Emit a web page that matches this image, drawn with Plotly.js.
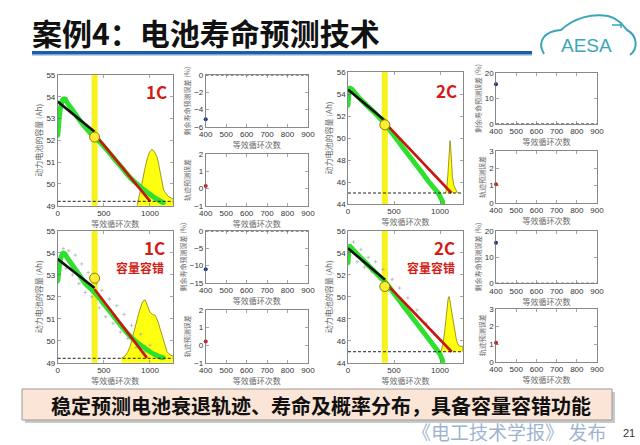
<!DOCTYPE html>
<html><head><meta charset="utf-8">
<script src="https://cdn.plot.ly/plotly-3.0.1.min.js"></script>
<style>html,body{margin:0;padding:0;background:#fff}#chart{width:640px;height:445px}</style>
</head><body><div id="chart"></div>
<script>
// ---------------- data ----------------
const cycleRange = [0, 1250];
const smallCycleRange = [400, 900];
const bigTickVals = [0, 500, 1000];
const smallTickVals = [400, 500, 600, 700, 800, 900];
const predCycle = [400];
const zeroRef = [0, 0];

// Panel A : 1C
const greenA_x = [0, 8, 18, 30, 45, 60, 80, 100, 150, 200, 250, 300, 350, 400, 450, 500, 600, 700, 800, 900, 950, 1000, 1050, 1100, 1150];
const greenA_y = [52.2, 52.6, 53.1, 53.5, 53.75, 53.9, 53.9, 53.75, 53.45, 53.15, 52.85, 52.6, 52.35, 52.15, 51.95, 51.72, 51.22, 50.72, 50.22, 49.85, 49.68, 49.52, 49.37, 49.24, 49.12];
const blackA_x = [0, 400];
const blackA_y = [53.78, 52.4];
const redA_x = [400, 1003];
const redA_y = [52.3, 49.2];
const circleA_y = [52.15];
const thresholdA = 49.2;
const pdfA_x = [860, 890, 915, 940, 967, 995, 1021, 1045, 1076, 1095, 1112, 1130, 1148, 1175, 1202, 1230, 1253];
const pdfA_y = [49.0, 49.5, 50.05, 50.6, 51.1, 51.45, 51.59, 51.5, 51.25, 50.9, 50.5, 50.1, 49.72, 49.55, 49.42, 49.35, 49.3];
const rulErrA = [-5.1];
const trajErrA = [0.15];

// Panel B : 2C
const greenB_x = [0, 5, 10, 20, 40, 100, 200, 300, 400, 500, 600, 700, 800, 900, 980, 1000, 1035];
const greenB_y = [52.9, 53.6, 54.2, 54.55, 54.45, 53.85, 53.0, 52.2, 51.3, 50.2, 49.1, 48.0, 46.9, 45.8, 45.0, 44.7, 44.1];
const blackB_x = [0, 400];
const blackB_y = [54.4, 51.6];
const redB_x = [400, 1125];
const redB_y = [51.4, 45.0];
const circleB_y = [51.2];
const thresholdB = 45;
const pdfB_x = [1060, 1075, 1085, 1095, 1102, 1109, 1116, 1125, 1135, 1150, 1170, 1190];
const pdfB_y = [45.0, 45.6, 46.6, 48.2, 49.3, 49.75, 49.2, 47.8, 46.5, 45.7, 45.3, 45.0];
const rulErrB = [15.6];
const trajErrB = [1.08];

// Panel C : 1C with capacity fault tolerance
const greenC_x = [0, 8, 18, 30, 45, 60, 80, 100, 150, 200, 250, 300, 350, 400, 450, 500, 600, 700, 800, 900, 950, 1000, 1050, 1100, 1150];
const greenC_y = [52.7, 53.0, 53.4, 53.7, 53.9, 54.0, 53.95, 53.8, 53.5, 53.2, 52.9, 52.6, 52.4, 52.2, 51.95, 51.68, 51.15, 50.62, 50.15, 49.8, 49.65, 49.5, 49.38, 49.28, 49.22];
const noiseC_x = [30, 60, 90, 120, 160, 190, 230, 260, 300, 330, 370, 420, 450, 480, 520, 560, 600, 640, 680, 720, 760, 800, 850, 900, 950, 1000, 1050];
const noiseC_y = [53.2, 54.2, 53.3, 54.1, 53.0, 53.9, 52.6, 53.5, 52.2, 53.1, 52.0, 52.6, 51.5, 52.3, 51.1, 51.9, 50.8, 51.6, 50.4, 51.2, 50.1, 50.7, 49.7, 50.3, 49.5, 49.8, 49.4];
const blackC_x = [0, 400];
const blackC_y = [53.72, 52.4];
const redC_x = [400, 967];
const redC_y = [52.35, 49.22];
const circleC_y = [52.85];
const thresholdC = 49.2;
const pdfC_x = [690, 730, 760, 786, 820, 858, 885, 913, 935, 950, 970, 1000, 1030, 1058, 1085, 1112, 1150, 1185, 1220, 1250];
const pdfC_y = [49.2, 49.3, 49.5, 49.75, 50.3, 50.95, 51.35, 51.7, 51.85, 51.85, 51.6, 51.3, 51.2, 51.15, 50.9, 50.5, 49.9, 49.5, 49.35, 49.3];
const rulErrC = [-11.0];
const trajErrC = [0.2];

// Panel D : 2C with capacity fault tolerance
const greenD_x = [0, 5, 10, 20, 40, 100, 200, 300, 420, 500, 600, 700, 800, 900, 981, 1000, 1036];
const greenD_y = [53.06, 53.8, 54.4, 54.6, 54.45, 53.9, 53.05, 52.2, 51.2, 50.3, 49.2, 48.1, 47.0, 45.9, 45.0, 44.75, 44.0];
const noiseD_x = [20, 60, 100, 140, 180, 220, 260, 300, 340, 380, 440, 480, 520, 560, 600, 650, 700, 750, 800, 850, 900, 950];
const noiseD_y = [53.8, 55.0, 53.2, 54.3, 52.7, 53.6, 52.3, 53.2, 51.6, 52.5, 50.6, 51.6, 49.9, 50.8, 49.0, 49.9, 47.9, 48.8, 46.9, 47.6, 45.8, 46.5];
const blackD_x = [0, 402];
const blackD_y = [54.43, 51.55];
const redD_x = [400, 1127];
const redD_y = [51.35, 45.0];
const circleD_y = [50.94];
const thresholdD = 45;
const pdfD_x = [1010, 1030, 1050, 1062, 1075, 1088, 1098, 1108, 1120, 1135, 1145, 1160, 1180, 1199, 1220, 1250, 1250];
const pdfD_y = [45.0, 45.6, 46.8, 47.9, 49.0, 49.8, 50.03, 49.7, 49.0, 48.3, 47.9, 47.0, 46.0, 45.6, 45.5, 45.5, 45.0];
const rulErrD = [15.4];
const trajErrD = [1.08];

// ---------------- helpers ----------------
const W = 640, H = 445;
const fx = p => p / W, fy = p => 1 - p / H;
const CJK = 'Noto Sans CJK SC';
const GREEN = '#2fe02f', RED = '#c8160f', BLACK = '#111', YEL = '#f7f21c';

const traces = [];
const shapes = [];
const layout = {
  width: W, height: H, margin: {l: 0, r: 0, t: 0, b: 0},
  paper_bgcolor: '#fff', plot_bgcolor: '#fff', showlegend: false,
  font: {family: CJK}
};

const axBase = () => ({
  showline: true, mirror: 'ticks', linecolor: '#6a6a6a', linewidth: 0.8,
  ticks: 'inside', ticklen: 3, tickwidth: 0.6, tickcolor: '#6a6a6a',
  showgrid: false, zeroline: false, fixedrange: true,
  tickfont: {family: 'Liberation Sans, Arial', size: 8, color: '#333'}
});
const titleFont = sz => ({family: CJK, size: sz, color: '#6a6a6a'});

function addAxes(n, xpx, ypx, xr, yr, xtv, ydt, xt, yt, ytSize) {
  const xa = axBase(), ya = axBase();
  xa.domain = [fx(xpx[0]), fx(xpx[1])];
  ya.domain = [fy(ypx[1]), fy(ypx[0])];
  xa.anchor = 'y' + (n === 1 ? '' : n);
  ya.anchor = 'x' + (n === 1 ? '' : n);
  xa.range = xr; ya.range = yr;
  xa.tickmode = 'array'; xa.tickvals = xtv;
  ya.dtick = ydt; ya.tick0 = 0;
  xa.title = {text: xt, font: titleFont(8), standoff: 1};
  ya.title = {text: yt, font: titleFont(ytSize), standoff: 2};
  layout['xaxis' + (n === 1 ? '' : n)] = xa;
  layout['yaxis' + (n === 1 ? '' : n)] = ya;
}
const ref = n => (n === 1 ? '' : String(n));

function bigPanel(n, xpx, ypx, yr, ydt, d) {
  addAxes(n, xpx, ypx, cycleRange, yr, bigTickVals, ydt, '等效循环次数', '动力电池的容量 (Ah)', 8);
  const xa = 'x' + ref(n), ya = 'y' + ref(n);
  shapes.push({type: 'line', xref: xa, yref: ya + ' domain', x0: predCycle[0], x1: predCycle[0], y0: 0, y1: 1,
    line: {color: YEL, width: 6}, layer: 'below'});
  traces.push({x: d.pdfX, y: d.pdfY, xaxis: xa, yaxis: ya, type: 'scatter', mode: 'lines',
    fill: d.pdfFill, fillcolor: '#ffff10', line: {color: '#8c7d00', width: 0.8}, hoverinfo: 'skip'});
  if (d.noiseX) traces.push({x: d.noiseX, y: d.noiseY, xaxis: xa, yaxis: ya, type: 'scatter', mode: 'markers',
    marker: {color: 'rgba(150,160,150,0.6)', size: 2.5, symbol: 'cross-thin', line: {color: 'rgba(150,160,150,0.7)', width: 0.8}}, hoverinfo: 'skip'});
  traces.push({x: d.gX, y: d.gY, xaxis: xa, yaxis: ya, type: 'scatter', mode: 'lines+markers',
    line: {color: GREEN, width: 5, shape: 'spline'}, marker: {color: GREEN, size: 4}, hoverinfo: 'skip'});
  traces.push({x: d.rX, y: d.rY, xaxis: xa, yaxis: ya, type: 'scatter', mode: 'lines',
    line: {color: RED, width: 2.6}, hoverinfo: 'skip'});
  traces.push({x: d.bX, y: d.bY, xaxis: xa, yaxis: ya, type: 'scatter', mode: 'lines',
    line: {color: BLACK, width: 2.6}, hoverinfo: 'skip'});
  traces.push({x: cycleRange, y: [d.thr, d.thr], xaxis: xa, yaxis: ya, type: 'scatter', mode: 'lines',
    line: {color: '#222', width: 1, dash: '3px,2px'}, hoverinfo: 'skip'});
  traces.push({x: predCycle, y: d.cY, xaxis: xa, yaxis: ya, type: 'scatter', mode: 'markers',
    marker: {color: '#ffee30', size: 10, line: {color: '#8a7a00', width: 1}}, hoverinfo: 'skip'});
}

function smallPair(nTop, xpx, ypxTop, ypxBot, rTop, dTop, rBot, dBot, rul, traj) {
  addAxes(nTop, xpx, ypxTop, smallCycleRange, rTop, smallTickVals, dTop, '等效循环次数', '剩余寿命预测误差 (%)', 7);
  addAxes(nTop + 1, xpx, ypxBot, smallCycleRange, rBot, smallTickVals, dBot, '等效循环次数', '轨迹预测误差', 7);
  const xa = 'x' + ref(nTop), ya = 'y' + ref(nTop);
  traces.push({x: smallCycleRange, y: zeroRef, xaxis: xa, yaxis: ya, type: 'scatter', mode: 'lines',
    line: {color: '#222', width: 1.2, dash: '3px,2px'}, hoverinfo: 'skip', cliponaxis: false});
  traces.push({x: predCycle, y: rul, xaxis: xa, yaxis: ya, type: 'scatter', mode: 'markers',
    marker: {color: '#1c2f8f', size: 4}, hoverinfo: 'skip', cliponaxis: false});
  traces.push({x: predCycle, y: traj, xaxis: 'x' + ref(nTop + 1), yaxis: 'y' + ref(nTop + 1), type: 'scatter', mode: 'markers',
    marker: {color: '#d01818', size: 4}, hoverinfo: 'skip', cliponaxis: false});
}

// ---------------- panels ----------------
bigPanel(1, [57.7, 173], [75, 205.7], [49, 55], 1,
  {gX: greenA_x, gY: greenA_y, bX: blackA_x, bY: blackA_y, rX: redA_x, rY: redA_y, cY: circleA_y, thr: thresholdA,
   pdfX: pdfA_x, pdfY: pdfA_y, pdfFill: 'tozeroy'});
smallPair(2, [205.7, 308], [75, 127], [154, 206], [-6, 0], 2, [-1, 2], 1, rulErrA, trajErrA);

bigPanel(4, [348, 463], [72, 204], [44, 56], 2,
  {gX: greenB_x, gY: greenB_y, bX: blackB_x, bY: blackB_y, rX: redB_x, rY: redB_y, cY: circleB_y, thr: thresholdB,
   pdfX: pdfB_x, pdfY: pdfB_y, pdfFill: 'toself'});
smallPair(5, [496, 597], [73, 124], [151, 203], [0, 20], 10, [0, 3], 1, rulErrB, trajErrB);

bigPanel(7, [57.7, 173], [231, 362.7], [49, 55], 1,
  {gX: greenC_x, gY: greenC_y, bX: blackC_x, bY: blackC_y, rX: redC_x, rY: redC_y, cY: circleC_y, thr: thresholdC,
   pdfX: pdfC_x, pdfY: pdfC_y, pdfFill: 'tozeroy', noiseX: noiseC_x, noiseY: noiseC_y});
smallPair(8, [205.7, 308], [231, 283], [310, 362.7], [-15, 0], 5, [-1, 2], 1, rulErrC, trajErrC);

bigPanel(10, [348, 463], [231, 362.7], [44, 56], 2,
  {gX: greenD_x, gY: greenD_y, bX: blackD_x, bY: blackD_y, rX: redD_x, rY: redD_y, cY: circleD_y, thr: thresholdD,
   pdfX: pdfD_x, pdfY: pdfD_y, pdfFill: 'toself', noiseX: noiseD_x, noiseY: noiseD_y});
smallPair(11, [496, 597], [230.7, 283.3], [309, 361.7], [0, 20], 10, [0, 3], 1, rulErrD, trajErrD);

// ---------------- slide decoration ----------------
shapes.push({type: 'rect', xref: 'paper', yref: 'paper', x0: fx(32), x1: fx(532), y0: fy(54), y1: fy(51),
  fillcolor: '#1f5ca8', line: {width: 0}});
shapes.push({type: 'rect', xref: 'paper', yref: 'paper', x0: fx(32), x1: fx(532), y0: fy(55.5), y1: fy(54),
  fillcolor: '#7aa6d8', line: {width: 0}});
// bottom box with shadow
shapes.push({type: 'rect', xref: 'paper', yref: 'paper', x0: fx(25), x1: fx(615), y0: fy(423), y1: fy(392),
  fillcolor: '#c9c9c9', line: {width: 0}});
shapes.push({type: 'rect', xref: 'paper', yref: 'paper', x0: fx(22), x1: fx(612), y0: fy(420), y1: fy(389),
  fillcolor: '#fbe5d6', line: {color: '#9a9a9a', width: 1}});
// logo car outline
const P = (x, y) => `${fx(x)},${fy(y)}`;
shapes.push({type: 'path', xref: 'paper', yref: 'paper',
  path: `M${P(544,54)} C${P(536,40)} ${P(546,31)} ${P(561,30)} C${P(574,18)} ${P(592,13)} ${P(608,16)} C${P(617,18)} ${P(622,24)} ${P(627,30)} C${P(638,36)} ${P(638,49)} ${P(630,55)}`,
  line: {color: '#3aa6b8', width: 2}});
shapes.push({type: 'path', xref: 'paper', yref: 'paper',
  path: `M${P(612,25)} L${P(621,25)} M${P(621,22)} L${P(621,28)}`,
  line: {color: '#3aa6b8', width: 1.5}});
layout.shapes = shapes;

const ann = (x, y, text, font, extra) => Object.assign({xref: 'paper', yref: 'paper', x: fx(x), y: fy(y), text,
  showarrow: false, font, xanchor: 'center', yanchor: 'middle'}, extra || {});
layout.annotations = [
  ann(30, 32, '案例4：电池寿命预测技术', {family: CJK, size: 30, color: '#111', weight: 700}, {xanchor: 'left'}),
  ann(586, 45, 'AESA', {family: 'Liberation Sans, Arial', size: 19, color: '#3aa6b8'}),
  ann(156, 91, '1C', {family: CJK, size: 17, color: '#d21d17', weight: 700}),
  ann(446, 90, '2C', {family: CJK, size: 17, color: '#d21d17', weight: 700}),
  ann(154, 247, '1C', {family: CJK, size: 17, color: '#d21d17', weight: 700}),
  ann(140, 267, '容量容错', {family: CJK, size: 12, color: '#d21d17', weight: 700}),
  ann(444, 247, '2C', {family: CJK, size: 17, color: '#d21d17', weight: 700}),
  ann(431, 267, '容量容错', {family: CJK, size: 12, color: '#d21d17', weight: 700}),
  ann(321, 405, '稳定预测电池衰退轨迹、寿命及概率分布，具备容量容错功能', {family: CJK, size: 20, color: '#111', weight: 700}),
  ann(410, 431, '《电工技术学报》 发布', {family: CJK, size: 19, color: 'rgba(140,165,200,0.85)'}, {xanchor: 'left'}),
  ann(629, 433, '21', {family: 'Liberation Sans, Arial', size: 11, color: '#333'})
];

Plotly.newPlot('chart', traces, layout, {staticPlot: true, displayModeBar: false});
</script>
</body></html>
